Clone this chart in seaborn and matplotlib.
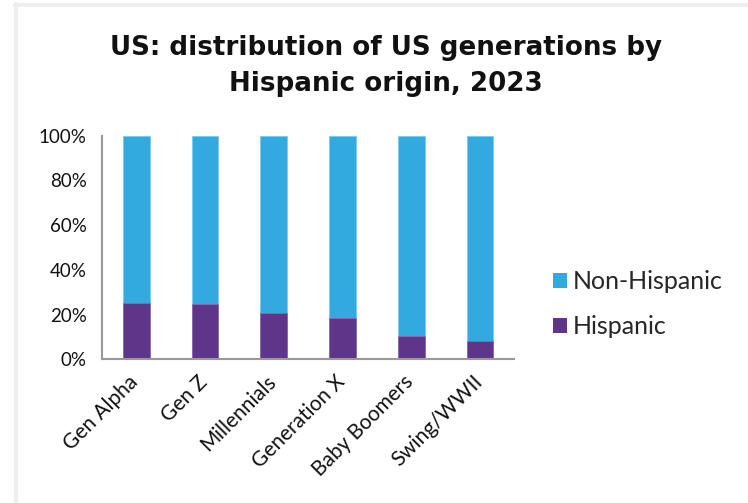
import matplotlib
matplotlib.use("Agg")
import matplotlib.pyplot as plt
import matplotlib.ticker as mticker
import matplotlib.transforms as mtransforms
import seaborn as sns
import pandas as pd
from matplotlib.lines import Line2D
from matplotlib.patches import Patch

# Share of each US generation by Hispanic origin, 2023 (%)
generations = ["Gen Alpha", "Gen Z", "Millennials", "Generation X",
               "Baby Boomers", "Swing/WWII"]
hispanic = [25.4, 24.6, 20.9, 18.3, 10.6, 8.2]
non_hispanic = [74.6, 75.4, 79.1, 81.7, 89.4, 91.8]

series_names = ["Non-Hispanic", "Hispanic"]
colors = {"Non-Hispanic": "#32A9DF", "Hispanic": "#5F358A"}

df = pd.DataFrame({
    "generation": generations,
    "hispanic": [h / 100 for h in hispanic],
    "total": [(h + n) / 100 for h, n in zip(hispanic, non_hispanic)],
})

sns.set_theme(style="white")
plt.rcParams["font.family"] = ["Lato", "DejaVu Sans"]

fig = plt.figure(figsize=(7.48, 5.03), dpi=100)
fig.patch.set_facecolor("white")
ax = fig.add_axes([0.1361, 0.2857, 0.5517, 0.4445])

# Stacked bars: full-height Non-Hispanic segment, Hispanic drawn over its base
sns.barplot(data=df, x="generation", y="total", color=colors["Non-Hispanic"],
            width=0.39, ax=ax, saturation=1, edgecolor="#7CCBEE", linewidth=0.6)
sns.barplot(data=df, x="generation", y="hispanic", color=colors["Hispanic"],
            width=0.39, ax=ax, saturation=1, edgecolor="#8B6BAE", linewidth=0.6)

ax.set_xlim(-0.5, len(generations) - 0.5)
ax.set_ylim(0, 1)
ax.yaxis.set_major_locator(mticker.MultipleLocator(0.2))
ax.yaxis.set_major_formatter(mticker.PercentFormatter(1.0, decimals=0))
ax.set_xlabel("")
ax.set_ylabel("")

for side in ("top", "right"):
    ax.spines[side].set_visible(False)
for side in ("left", "bottom"):
    ax.spines[side].set_color("#999999")
    ax.spines[side].set_linewidth(1.5)

# Category boundary ticks on the x axis
ax.set_xticks(range(len(generations)))
ax.set_xticklabels(generations, rotation=45, ha="right", rotation_mode="anchor",
                   fontsize=15, color="#111111")
ax.tick_params(axis="x", which="major", length=0, pad=9)
shift = mtransforms.ScaledTranslation(-8 / 100, 0, fig.dpi_scale_trans)
for lbl in ax.get_xticklabels():
    lbl.set_transform(lbl.get_transform() + shift)
ax.set_xticks([i - 0.5 for i in range(len(generations) + 1)], minor=True)
ax.tick_params(axis="x", which="minor", length=5, width=1.5, color="#999999",
               direction="out")
ax.tick_params(axis="y", length=5, width=1.5, color="#999999", direction="out",
               labelsize=13.5, labelcolor="#111111", pad=6)

fig.text(0.5155, 0.869, "US: distribution of US generations by\nHispanic origin, 2023",
         ha="center", va="center", fontsize=18.8, fontweight="bold",
         family=["DejaVu Sans"], color="#111111", linespacing=1.48)

handles = [Patch(facecolor=colors[n], edgecolor="none") for n in series_names]
fig.legend(handles, series_names, loc="center left",
           bbox_to_anchor=(0.739, 0.395), frameon=False, fontsize=18,
           handlelength=0.56, handleheight=0.56, handletextpad=0.25,
           labelspacing=0.87, borderaxespad=0, borderpad=0)

# Light frame along the top and left edges
fig.add_artist(Line2D([0.0201, 1.0], [0.9901, 0.9901], transform=fig.transFigure,
                      color="#EEEEEE", linewidth=3))
fig.add_artist(Line2D([0.0214, 0.0214], [0.0, 0.993], transform=fig.transFigure,
                      color="#EEEEEE", linewidth=3))

fig.savefig("out.png", dpi=100, facecolor="white")
